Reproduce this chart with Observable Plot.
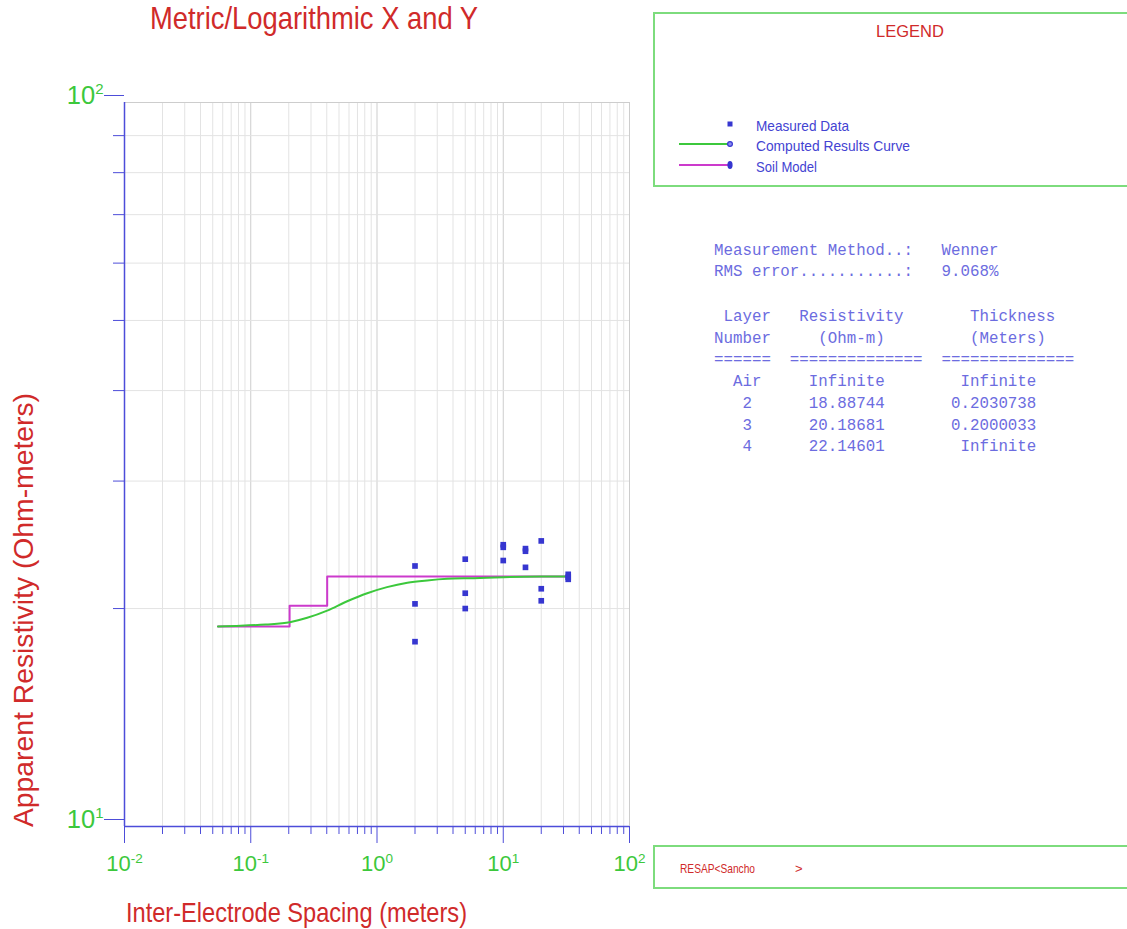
<!DOCTYPE html>
<html>
<head>
<meta charset="utf-8">
<script src="https://cdn.jsdelivr.net/npm/d3@7"></script>
<script src="https://cdn.jsdelivr.net/npm/@observablehq/plot@0.6"></script>
<style>
  html, body { margin: 0; padding: 0; background: #fff; overflow: hidden; }
  #wrap { position: relative; width: 1127px; height: 929px; background: #fff; }
  #wrap > svg { position: absolute; left: 0; top: 0; }
</style>
</head>
<body>
<div id="wrap"></div>
<script>
// Wenner sounding: measured apparent resistivity against electrode spacing
const measuredSpacing = [2, 2, 2, 5, 5, 5, 10, 10, 10, 15, 15, 15, 20, 20, 20, 32.7, 32.7, 32.7];
const measuredRho     = [22.9, 20.3, 18.0, 23.4, 21.0, 20.0, 24.5, 24.3, 23.3, 24.2, 24.0, 22.8, 24.8, 21.3, 20.5, 22.3, 22.1, 21.95];

// Computed apparent resistivity of the fitted model
const curveSpacing = [0.055, 0.083, 0.131, 0.204, 0.28, 0.403, 0.581, 0.837, 1.2, 1.74, 2.5, 3.6, 5.85, 10, 20, 32.7];
const curveRho     = [18.89, 18.93, 19.01, 19.15, 19.42, 19.87, 20.47, 21.0, 21.41, 21.71, 21.87, 21.98, 22.03, 22.1, 22.14, 22.146];

// Layered soil model (layers 2..4)
const layerResistivity = [18.88744, 20.18681, 22.14601];
const layerThickness   = [0.2030738, 0.2000033];
const modelStart = 0.055;
const modelEnd = 32.7;

// Axis ticks
const xDecades = [0.01, 0.1, 1, 10, 100];
const yDecades = [10, 100];
const xMinor = [0.01, 0.1, 1, 10].flatMap(d => [2, 3, 4, 5, 6, 7, 8, 9].map(k => +(d * k).toPrecision(3)));
const yMinor = [20, 30, 40, 50, 60, 70, 80, 90];

// Report text beside the chart
const reportLines = [
  "Measurement Method..:   Wenner",
  "RMS error...........:   9.068%",
  " Layer   Resistivity       Thickness",
  "Number     (Ohm-m)         (Meters)",
  "======  ==============  ==============",
  "  Air     Infinite        Infinite",
  "   2      18.88744       0.2030738",
  "   3      20.18681       0.2000033",
  "   4      22.14601        Infinite"
];
const reportBaselines = [254.5, 276, 320.5, 342.5, 364, 386, 408, 429.5, 451];

// Model step positions: layer boundaries are cumulative depths
const modelSpacing = [modelStart];
layerThickness.reduce((acc, t) => { modelSpacing.push(acc + t); return acc + t; }, 0);
modelSpacing.push(modelEnd);
const modelRho = [...layerResistivity, layerResistivity[layerResistivity.length - 1]];

const axisBlue = "#4d4dd9";
const dotBlue = "#3636d0";
const green = "#3cc83c";
const magenta = "#cc3acc";
const red = "#d02a2a";
const sansFont = "'Liberation Sans', Arial, Helvetica, sans-serif";

const pow10 = d => "10^" + Math.round(Math.log10(d));

const chart = Plot.plot({
  width: 1127,
  height: 929,
  marginLeft: 124,
  marginRight: 498,
  marginTop: 102,
  marginBottom: 103,
  style: { fontFamily: sansFont, background: "transparent", overflow: "visible" },
  x: { type: "log", domain: [0.01, 100], label: null },
  y: { type: "log", domain: [10, 100], label: null },
  marks: [
    Plot.gridX(xMinor, { stroke: "#e3e3e3", strokeOpacity: 1 }),
    Plot.gridX(xDecades, { stroke: "#cdcdcd", strokeOpacity: 1 }),
    Plot.gridY(yMinor, { stroke: "#e3e3e3", strokeOpacity: 1 }),
    Plot.gridY(yDecades, { stroke: "#cdcdcd", strokeOpacity: 1 }),
    Plot.axisX(xMinor, { tickSize: 8, tickFormat: () => "", stroke: axisBlue, label: null }),
    Plot.axisX(xDecades, { tickSize: 17, tickPadding: 12, tickFormat: pow10, stroke: axisBlue, fill: green, fontSize: 22, label: null }),
    Plot.axisY(yMinor, { tickSize: 11, tickFormat: () => "", stroke: axisBlue, label: null }),
    Plot.axisY(yDecades, { tickSize: 20, tickPadding: 1, dy: -7, tickFormat: pow10, stroke: axisBlue, fill: green, fontSize: 25.5, label: null }),
    Plot.ruleY([10], { stroke: axisBlue, strokeWidth: 1.5 }),
    Plot.ruleX([0.01], { stroke: axisBlue, strokeWidth: 1.5 }),
    Plot.line(modelSpacing, { x: modelSpacing, y: modelRho, curve: "step-after", stroke: magenta, strokeWidth: 2 }),
    Plot.line(curveSpacing, { x: curveSpacing, y: curveRho, curve: "monotone-x", stroke: green, strokeWidth: 2 }),
    Plot.dot(measuredSpacing, { x: measuredSpacing, y: measuredRho, symbol: "square", r: 3.2, fill: dotBlue, stroke: "none" })
  ]
});
document.getElementById("wrap").appendChild(chart);

// Decade labels as 10 with a raised exponent
d3.select(chart).selectAll("g[aria-label$='tick label'] text").each(function () {
  const s = this.textContent;
  if (!s.includes("^")) return;
  const [base, exp] = s.split("^");
  const isY = this.parentNode.getAttribute("aria-label").startsWith("y");
  this.textContent = base;
  const t = document.createElementNS("http://www.w3.org/2000/svg", "tspan");
  t.setAttribute("font-size", isY ? 15 : 13.5);
  t.setAttribute("dy", isY ? -10 : -8.5);
  t.textContent = exp;
  this.appendChild(t);
});

// Titles, legend and report panel
const svg = d3.select("#wrap").append("svg")
  .attr("width", 1127).attr("height", 929)
  .style("font-family", sansFont)
  .style("pointer-events", "none");

svg.append("text")
  .attr("x", 150).attr("y", 29).attr("font-size", 30.5).attr("fill", red)
  .attr("textLength", 328).attr("lengthAdjust", "spacingAndGlyphs")
  .text("Metric/Logarithmic X and Y");

svg.append("text")
  .attr("x", 126).attr("y", 921.5).attr("font-size", 28.5).attr("fill", red)
  .attr("textLength", 341).attr("lengthAdjust", "spacingAndGlyphs")
  .text("Inter-Electrode Spacing (meters)");

svg.append("text")
  .attr("transform", "translate(33.3,827) rotate(-90)")
  .attr("font-size", 28.3).attr("fill", red)
  .attr("textLength", 434).attr("lengthAdjust", "spacingAndGlyphs")
  .text("Apparent Resistivity (Ohm-meters)");

// Legend box
const legend = svg.append("g");
legend.append("rect")
  .attr("x", 654).attr("y", 13).attr("width", 520).attr("height", 173)
  .attr("fill", "none").attr("stroke", "#7ddc7d").attr("stroke-width", 2);
legend.append("text")
  .attr("x", 910).attr("y", 36.5).attr("text-anchor", "middle")
  .attr("font-size", 16.5).attr("fill", red).text("LEGEND");

legend.append("rect")
  .attr("x", 727.5).attr("y", 121.5).attr("width", 5).attr("height", 5).attr("fill", dotBlue);
legend.append("line")
  .attr("x1", 679).attr("x2", 730).attr("y1", 144).attr("y2", 144)
  .attr("stroke", green).attr("stroke-width", 2);
legend.append("circle")
  .attr("cx", 730).attr("cy", 144).attr("r", 2.4)
  .attr("fill", "#8a8af0").attr("stroke", dotBlue).attr("stroke-width", 1.2);
legend.append("line")
  .attr("x1", 679).attr("x2", 730).attr("y1", 165).attr("y2", 165)
  .attr("stroke", magenta).attr("stroke-width", 2);
legend.append("ellipse")
  .attr("cx", 730).attr("cy", 165).attr("rx", 2.6).attr("ry", 4)
  .attr("fill", dotBlue);

const legendItems = [
  { label: "Measured Data", y: 130.7, w: 93 },
  { label: "Computed Results Curve", y: 150.7, w: 154 },
  { label: "Soil Model", y: 171.5, w: 61 }
];
legend.selectAll("text.item").data(legendItems).join("text")
  .attr("class", "item")
  .attr("x", 756).attr("y", d => d.y)
  .attr("font-size", 15).attr("fill", "#4343d2")
  .attr("textLength", d => d.w).attr("lengthAdjust", "spacingAndGlyphs")
  .text(d => d.label);

// Report panel (monospaced; spaces kept with no-break spaces)
svg.append("g")
  .attr("font-family", "'Liberation Mono', 'Courier New', monospace")
  .attr("font-size", 15.8)
  .attr("fill", "#6c6ce0")
  .selectAll("text").data(reportLines).join("text")
  .attr("x", 714).attr("y", (d, i) => reportBaselines[i])
  .text(d => d.replace(/ /g, "\u00a0"));

// Footer box
svg.append("rect")
  .attr("x", 654).attr("y", 846).attr("width", 520).attr("height", 42)
  .attr("fill", "none").attr("stroke", "#7ddc7d").attr("stroke-width", 2);
svg.append("text")
  .attr("x", 680).attr("y", 872.5).attr("font-size", 13).attr("fill", red)
  .attr("textLength", 75).attr("lengthAdjust", "spacingAndGlyphs")
  .text("RESAP<Sancho");
svg.append("text")
  .attr("x", 795).attr("y", 872.5).attr("font-size", 13).attr("fill", red)
  .text(">");
</script>
</body>
</html>
